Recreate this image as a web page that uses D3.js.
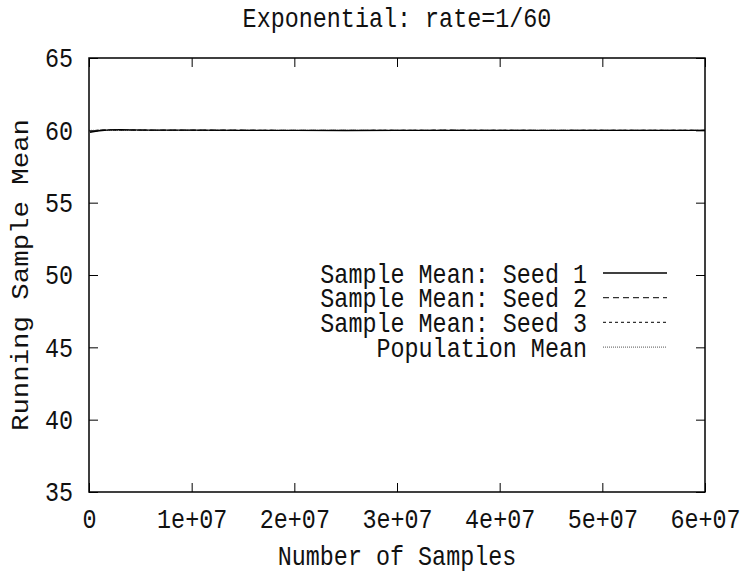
<!DOCTYPE html>
<html>
<head>
<meta charset="utf-8">
<script src="https://cdn.jsdelivr.net/npm/d3@7"></script>
<style>
  body { margin: 0; background: #fff; }
  text { font-family: "Liberation Mono", "DejaVu Sans Mono", monospace; fill: #111; }
</style>
</head>
<body>
<div id="chart"></div>
<script>
// running sample mean vs number of samples
const samples = [1e5, 5e5, 1e6, 2e6, 3e6, 4e6, 6e6, 8e6, 1e7, 1.5e7, 2e7, 2.5e7, 3e7, 3.5e7, 4e7, 4.5e7, 5e7, 5.5e7, 6e7];
const seed1 = [59.86, 59.92, 59.97, 60.03, 60.04, 60.03, 60.02, 60.02, 60.01, 60.0, 60.0, 59.99, 60.0, 60.0, 60.0, 60.0, 60.0, 60.0, 60.0];
const seed2 = [59.9, 59.96, 60.01, 60.04, 60.03, 60.02, 60.02, 60.01, 60.01, 60.01, 60.0, 60.0, 60.0, 60.01, 60.0, 60.0, 60.0, 60.0, 60.0];
const seed3 = [59.93, 59.98, 60.02, 60.02, 60.03, 60.02, 60.01, 60.01, 60.0, 60.0, 59.99, 59.99, 60.0, 60.0, 60.0, 59.99, 60.0, 60.0, 60.0];
const popMean = 60;

const xTicks = [0, 1e7, 2e7, 3e7, 4e7, 5e7, 6e7];
const xTickLabels = ["0", "1e+07", "2e+07", "3e+07", "4e+07", "5e+07", "6e+07"];
const yTicks = [35, 40, 45, 50, 55, 60, 65];

const legendNames = ["Sample Mean: Seed 1", "Sample Mean: Seed 2", "Sample Mean: Seed 3", "Population Mean"];

const w = 741, h = 574;
const margin = { top: 58, right: 36, bottom: 82, left: 89 };
const fs = 23.4;
const sy = 1.17; // the glyphs are a bit taller than wide
const stretch = "scale(1," + sy + ")";

const svg = d3.select("#chart").append("svg")
  .attr("width", w)
  .attr("height", h);

const xScale = d3.scaleLinear()
  .domain([0, 6e7])
  .range([margin.left, w - margin.right]);

const yScale = d3.scaleLinear()
  .domain([35, 65])
  .range([h - margin.bottom, margin.top]);

const tickLen = 9;

// ticks on all four sides, pointing in
const xAxisB = d3.axisBottom(xScale).tickValues(xTicks).tickSize(-tickLen).tickFormat((d, i) => xTickLabels[i]).tickPadding(14);
const xAxisT = d3.axisTop(xScale).tickValues(xTicks).tickSize(-tickLen).tickFormat("");
const yAxisL = d3.axisLeft(yScale).tickValues(yTicks).tickSize(-tickLen).tickPadding(16);
const yAxisR = d3.axisRight(yScale).tickValues(yTicks).tickSize(-tickLen).tickFormat("");

function styleAxis(g) {
  g.select(".domain").remove();
  g.selectAll(".tick line").attr("stroke", "#000").attr("stroke-width", 1);
  g.selectAll(".tick text").style("font-size", fs + "px").attr("fill", "#111").attr("transform", stretch);
}

svg.append("g").attr("transform", "translate(0," + (h - margin.bottom) + ")").call(xAxisB).call(styleAxis);
svg.append("g").attr("transform", "translate(0," + margin.top + ")").call(xAxisT).call(styleAxis);
svg.append("g").attr("transform", "translate(" + margin.left + ",0)").call(yAxisL).call(styleAxis);
svg.append("g").attr("transform", "translate(" + (w - margin.right) + ",0)").call(yAxisR).call(styleAxis);

// the series
const styles = [
  { dash: null, color: "#000", width: 1.3 },
  { dash: "6,4", color: "#333", width: 1.2 },
  { dash: "3,3", color: "#333", width: 1.1 },
  { dash: "1,1", color: "#555", width: 1 }
];

const line = d3.line()
  .x(d => xScale(d[0]))
  .y(d => yScale(d[1]));

const seriesData = [
  samples.map((s, i) => [s, seed1[i]]),
  samples.map((s, i) => [s, seed2[i]]),
  samples.map((s, i) => [s, seed3[i]]),
  [[0, popMean], [6e7, popMean]]
];

// draw the population mean first, then seeds 3,2,1 on top
[3, 2, 1, 0].forEach(k => {
  svg.append("path")
    .datum(seriesData[k])
    .attr("fill", "none")
    .attr("stroke", styles[k].color)
    .attr("stroke-width", styles[k].width)
    .attr("stroke-dasharray", styles[k].dash)
    .attr("d", line);
});

// frame
svg.append("rect")
  .attr("x", margin.left)
  .attr("y", margin.top)
  .attr("width", w - margin.left - margin.right)
  .attr("height", h - margin.top - margin.bottom)
  .attr("fill", "none")
  .attr("stroke", "#000")
  .attr("stroke-width", 1.5);

function label(x, y, str, anchor, extra) {
  return svg.append("text")
    .attr("transform", "translate(" + x + "," + y + ") " + (extra || "") + stretch)
    .attr("text-anchor", anchor)
    .style("font-size", fs + "px")
    .text(str);
}

// legend
const legX = 587, legY = 273, legStep = 24.7;
legendNames.forEach((name, i) => {
  label(legX, legY + i * legStep, name, "end").attr("dy", "0.35em");
  svg.append("line")
    .attr("x1", legX + 16)
    .attr("x2", legX + 80)
    .attr("y1", legY + i * legStep)
    .attr("y2", legY + i * legStep)
    .attr("stroke", styles[i].color)
    .attr("stroke-width", styles[i].width)
    .attr("stroke-dasharray", styles[i].dash);
});

// titles
const cx = (margin.left + w - margin.right) / 2;
label(cx, 27, "Exponential: rate=1/60", "middle");
label(cx, 565, "Number of Samples", "middle");

// rotated label: the stretch goes along the text
svg.append("text")
  .attr("transform", "translate(28," + ((margin.top + h - margin.bottom) / 2) + ") " + stretch + " rotate(-90)")
  .attr("text-anchor", "middle")
  .style("font-size", fs + "px")
  .text("Running Sample Mean");
</script>
</body>
</html>
